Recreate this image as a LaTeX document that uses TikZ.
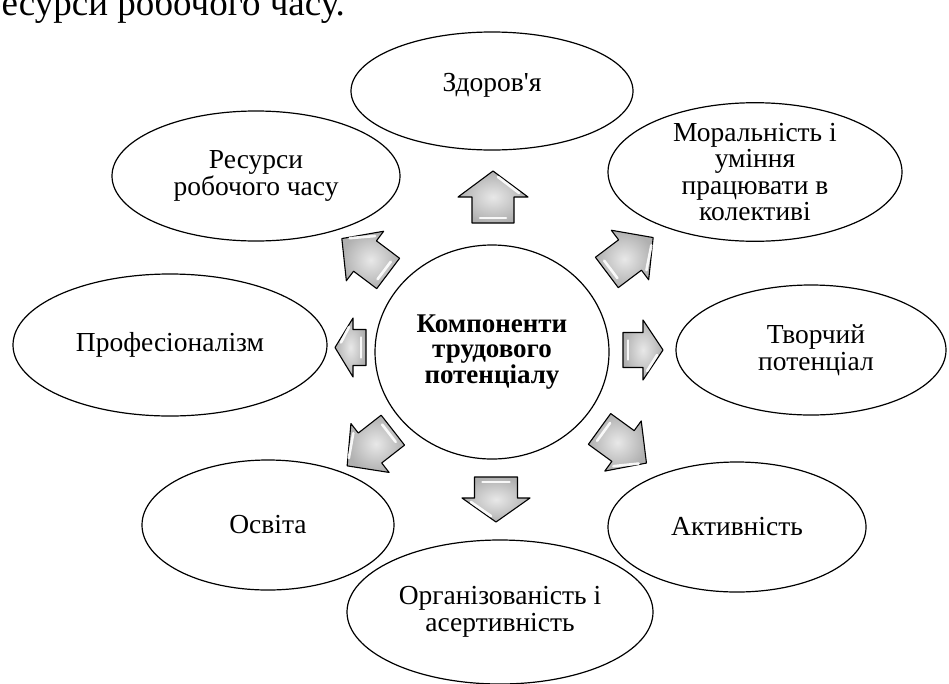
\documentclass[tikz,border=0pt]{standalone}
\usepackage{fontspec}
\setmainfont{Liberation Serif}
\usetikzlibrary{shapes.geometric}
\begin{document}
\begin{tikzpicture}[x=1pt,y=-1pt,
  bubble/.style={ellipse, draw=black, line width=1.2pt, fill=white, inner sep=0pt,
    align=center, font=\fontsize{27.5}{26.5}\selectfont},
  hub/.style={bubble, font=\bfseries\fontsize{27}{25.5}\selectfont},
  arrowbody/.style={draw=black, line width=1.1pt, line join=round, inner color=gray!18, outer color=gray!62},
  shine/.style={draw=white, line width=2.6pt, line cap=round, opacity=0.9},
  pics/barrow/.style n args={4}{code={
    \path[arrowbody] ({-#1/2},{-#3/2}) -- ({#1/2-#4},{-#3/2}) -- ({#1/2-#4},{-#2/2})
      -- ({#1/2},0) -- ({#1/2-#4},{#2/2}) -- ({#1/2-#4},{#3/2}) -- ({-#1/2},{#3/2}) -- cycle;
    \path[shine] ({-#1/2+5},{-#3/2+8}) -- ({-#1/2+5},{#3/2-8});
    \path[shine] ({#1/2-#4+4},{#2/2-9}) -- ({#1/2-6},{5});
    \coordinate (-c) at (0,0);
  }}
]
\path[fill=white] (0,0) rectangle (949,683);
\useasboundingbox (0,0) rectangle (949,683);
\clip (0,0) rectangle (949,683);

% partially visible line of text above the figure
\node[anchor=base east, inner sep=0pt, font=\fontsize{37}{41}\selectfont] (toptext) at (345,15) {ресурси робочого часу.};

% outer ellipses
\node[bubble, minimum width=282pt, minimum height=118pt] (zd) at (492,91) {\raisebox{6pt}[0.7em][0.2em]{Здоров\textquotesingle я}};
\node[bubble, minimum width=288pt, minimum height=130pt] (res) at (256,176) {Ресурси\\робочого часу};
\node[bubble, minimum width=294pt, minimum height=138pt] (mor) at (755,172) {Моральність і\\уміння\\працювати в\\колективі};
\node[bubble, minimum width=314pt, minimum height=142pt] (prof) at (170,345) {Професіоналізм};
\node[bubble, minimum width=270pt, minimum height=130pt] (tvor) at (811,350) {\hspace*{10pt}Творчий\\\hspace*{10pt}потенціал};
\node[bubble, minimum width=252pt, minimum height=130pt] (osv) at (268,525) {Освіта};
\node[bubble, minimum width=258pt, minimum height=130pt] (akt) at (737,527) {Активність};
\node[bubble, minimum width=306pt, minimum height=144pt] (org) at (500,612) {Організованість і\\асертивність};

% centre
\node[hub, minimum width=234pt, minimum height=214pt] (hub) at (492,352) {Компоненти\\трудового\\потенціалу};

% block arrows
\pic[rotate=90]   (aup) at (493,197)   {barrow={52}{70}{42}{26}};
\pic[rotate=0]    (art) at (643,350)   {barrow={40}{60}{35}{20}};
\pic[rotate=-90]  (adn) at (496,499.5) {barrow={45}{68}{43}{24}};
\pic[rotate=180]  (alf) at (350.5,347.5) {barrow={31}{59}{36}{18}};
\pic[rotate=37]   (aur) at (630,255)   {barrow={58}{62}{38}{29}};
\pic[rotate=-36]  (adr) at (623,446)   {barrow={58}{62}{38}{29}};
\pic[rotate=-142] (adl) at (370,448)   {barrow={58}{62}{38}{29}};
\pic[rotate=143]  (aul) at (365,256)   {barrow={58}{62}{38}{29}};
\end{tikzpicture}
\end{document}
